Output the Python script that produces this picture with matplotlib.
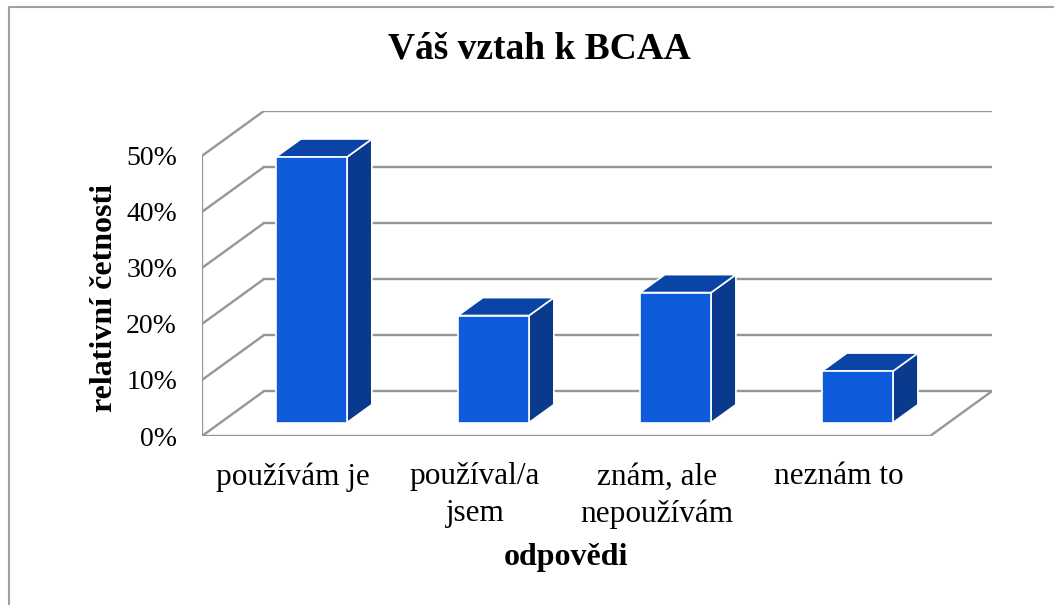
import matplotlib.pyplot as plt
from matplotlib.patches import Polygon
from matplotlib.lines import Line2D

# data
categories = ['používám je', 'používal/a\njsem', 'znám, ale\nnepoužívám', 'neznám to']
values = [47.4, 19.1, 23.2, 9.2]  # percent
yticks = [0, 10, 20, 30, 40, 50]

plt.rcParams['font.family'] = ['Liberation Serif', 'DejaVu Serif']

# pseudo 3D: depth offset in data units
DX, DY = 0.34, 8.0
bar_w = 0.39
d0, d1 = 0.3, 0.7
front_c, top_c, side_c = '#0E5BDB', '#0A44A6', '#0A3A8E'
grid_c = '#969696'

fig = plt.figure(figsize=(10.54, 6.05), dpi=100)
ax = fig.add_axes([202 / 1054, 1 - 436 / 605, 790 / 1054, 325 / 605])
n = len(categories)
ax.set_xlim(0, n + DX)
ax.set_ylim(0, yticks[-1] + DY)
for s in ax.spines.values():
    s.set_visible(False)

# walls and floor
ax.plot([0, 0], [0, yticks[-1]], color=grid_c, lw=1.7, zorder=1)
for t in yticks:
    ax.plot([0, DX], [t, t + DY], color=grid_c, lw=1.7, zorder=1)
    ax.plot([DX, n + DX], [t + DY, t + DY], color=grid_c, lw=1.7, zorder=1)
ax.plot([0, n, n + DX], [0, 0, DY], color=grid_c, lw=1.7, zorder=1)

# bars
for i, v in enumerate(values):
    x0 = i + (1 - bar_w) / 2
    x1 = x0 + bar_w
    fa = [(x0 + d0 * DX, d0 * DY), (x1 + d0 * DX, d0 * DY),
          (x1 + d0 * DX, v + d0 * DY), (x0 + d0 * DX, v + d0 * DY)]
    tp = [(x0 + d0 * DX, v + d0 * DY), (x1 + d0 * DX, v + d0 * DY),
          (x1 + d1 * DX, v + d1 * DY), (x0 + d1 * DX, v + d1 * DY)]
    sd = [(x1 + d0 * DX, d0 * DY), (x1 + d1 * DX, d1 * DY),
          (x1 + d1 * DX, v + d1 * DY), (x1 + d0 * DX, v + d0 * DY)]
    for pts, c in [(sd, side_c), (tp, top_c), (fa, front_c)]:
        ax.add_patch(Polygon(pts, closed=True, facecolor=c, edgecolor='white',
                             lw=1.2, zorder=3))

ax.set_yticks(yticks)
ax.set_yticklabels([f'{t}%' for t in yticks], fontsize=20)
ax.set_xticks([i + 0.5 for i in range(n)])
ax.set_xticklabels(categories, fontsize=22.5, linespacing=1.35)
ax.tick_params(axis='y', length=0, pad=18)
ax.tick_params(axis='x', length=0, pad=19)

fig.text(539 / 1054, 1 - 49 / 605, 'Váš vztah k BCAA', fontsize=27,
         fontweight='bold', ha='center', va='center')
fig.text(104 / 1054, 1 - 298 / 605, 'relativní četnosti', fontsize=23,
         fontweight='bold', ha='center', va='center', rotation=90)
fig.text(566 / 1054, 1 - 558 / 605, 'odpovědi', fontsize=23,
         fontweight='bold', ha='center', va='center')

# outer frame (top and left edges visible)
fig.add_artist(Line2D([8.5 / 1054, 8.5 / 1054, 1], [0, 1 - 7 / 605, 1 - 7 / 605],
                      transform=fig.transFigure, color='#A0A0A0', lw=1.5))

fig.savefig('out.png', dpi=100)
